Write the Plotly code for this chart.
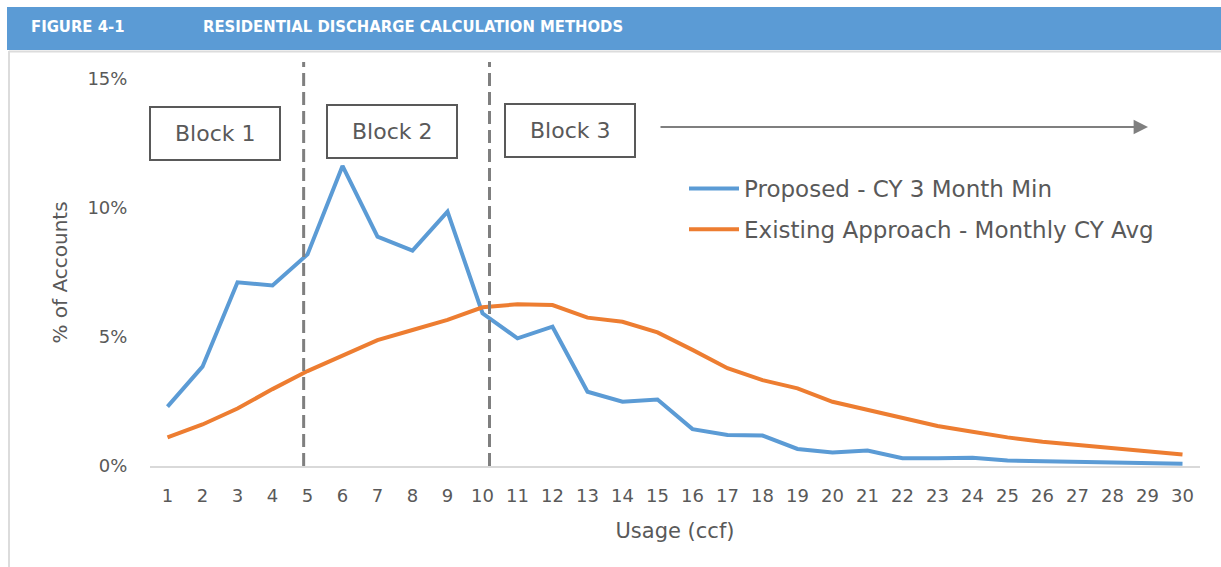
import plotly.graph_objects as go

usage = list(range(1, 31))
proposed = [2.30, 3.85, 7.12, 7.00, 8.20, 11.63, 8.89, 8.35, 9.86, 5.92,
            4.95, 5.40, 2.88, 2.49, 2.58, 1.43, 1.20, 1.18, 0.66, 0.52,
            0.60, 0.30, 0.30, 0.32, 0.21, 0.18, 0.15, 0.13, 0.10, 0.09]
existing = [1.11, 1.61, 2.23, 2.98, 3.68, 4.28, 4.88, 5.27, 5.66, 6.15,
            6.27, 6.24, 5.75, 5.59, 5.18, 4.50, 3.79, 3.33, 3.01, 2.49,
            2.18, 1.85, 1.55, 1.33, 1.11, 0.94, 0.81, 0.70, 0.57, 0.45]
series_names = ["Proposed - CY 3 Month Min", "Existing Approach - Monthly CY Avg"]
y_ticks = [0, 5, 10, 15]
block_labels = ["Block 1", "Block 2", "Block 3"]
block_bounds = [4.89, 10.2]

W, H = 1221, 567
L, R, T, B = 150, 1200, 79, 466

def px(x):
    return (x - L) / (R - L)

def py(y):
    return (B - y) / (B - T)

FONT = "DejaVu Sans, sans-serif"
GRAY = "#595959"

fig = go.Figure()
fig.add_trace(go.Scatter(x=usage, y=proposed, mode="lines", name=series_names[0],
                         line=dict(color="#5B9BD5", width=4), legendgroup="a"))
fig.add_trace(go.Scatter(x=usage, y=existing, mode="lines", name=series_names[1],
                         line=dict(color="#ED7D31", width=4), legendgroup="b"))

shapes = []
# header bar
shapes.append(dict(type="rect", xref="paper", yref="paper", x0=px(7), x1=px(1221),
                   y0=py(50), y1=py(7), fillcolor="#5B9BD5", line=dict(width=0), layer="below"))
# frame lines
shapes.append(dict(type="line", xref="paper", yref="paper", x0=px(9), x1=px(1221),
                   y0=py(51.5), y1=py(51.5), line=dict(color="#dcdcdc", width=2)))
shapes.append(dict(type="line", xref="paper", yref="paper", x0=px(9), x1=px(9),
                   y0=py(51), y1=py(567), line=dict(color="#dcdcdc", width=2)))
# dashed block boundaries
for b in block_bounds:
    shapes.append(dict(type="line", xref="x", yref="paper", x0=b, x1=b,
                       y0=0, y1=py(62), line=dict(color="#7f7f7f", width=3, dash="13px,6px")))
# block boxes
boxes = [(150, 280, 107, 160), (327, 457, 105, 158), (505, 635, 104, 157)]
annotations = []
for (x0, x1, y0, y1), lab in zip(boxes, block_labels):
    shapes.append(dict(type="rect", xref="paper", yref="paper", x0=px(x0), x1=px(x1),
                       y0=py(y1), y1=py(y0), line=dict(color=GRAY, width=2),
                       fillcolor="white"))
    annotations.append(dict(xref="paper", yref="paper", x=px((x0 + x1) / 2),
                            y=py((y0 + y1) / 2), xanchor="center", yanchor="middle",
                            text=lab, showarrow=False,
                            font=dict(family=FONT, size=22, color=GRAY)))

# arrow
annotations.append(dict(xref="paper", yref="paper", x=px(1148), y=py(127), ax=-489, ay=0,
                        text="", showarrow=True, arrowhead=2, arrowsize=1.6,
                        arrowwidth=1.8, arrowcolor="#7f7f7f"))
# header text
HFONT = "Liberation Sans Narrow, DejaVu Sans Condensed, sans-serif"
annotations.append(dict(xref="paper", yref="paper", x=px(29), y=py(27), xanchor="left",
                        yanchor="middle", text="<b>FIGURE 4-1</b>", showarrow=False,
                        font=dict(family=HFONT, size=16.5, color="white")))
annotations.append(dict(xref="paper", yref="paper", x=px(201), y=py(27), xanchor="left",
                        yanchor="middle", text="<b>RESIDENTIAL DISCHARGE CALCULATION METHODS</b>",
                        showarrow=False, font=dict(family=HFONT, size=16.5, color="white")))

fig.update_layout(
    width=W, height=H,
    margin=dict(l=L, r=W - R, t=T, b=H - B, autoexpand=False),
    paper_bgcolor="white", plot_bgcolor="white",
    font=dict(family=FONT, color=GRAY),
    shapes=shapes, annotations=annotations,
    legend=dict(x=px(684), y=py(167), xanchor="left", yanchor="top",
                font=dict(family=FONT, size=23, color=GRAY),
                bgcolor="rgba(0,0,0,0)", tracegroupgap=8, itemwidth=50),
    xaxis=dict(range=[0.5, 30.5], tickvals=usage, ticktext=[str(u) for u in usage],
               showgrid=False, zeroline=False, showline=True, linecolor="#d9d9d9", linewidth=2,
               ticks="outside", ticklen=12, tickcolor="rgba(0,0,0,0)",
               tickfont=dict(size=18, color=GRAY),
               title=dict(text="Usage (ccf)", font=dict(size=21, color=GRAY), standoff=19)),
    yaxis=dict(range=[0, 15], tickvals=y_ticks, ticktext=[f"{v}%" for v in y_ticks],
               showgrid=False, zeroline=False, showline=False,
               ticks="outside", ticklen=18, tickcolor="rgba(0,0,0,0)",
               tickfont=dict(size=18, color=GRAY),
               title=dict(text="% of Accounts", font=dict(size=20, color=GRAY), standoff=14)),
)
fig.write_html("out.html", post_script="document.body.style.margin='0';",
               config={"displayModeBar": False})
